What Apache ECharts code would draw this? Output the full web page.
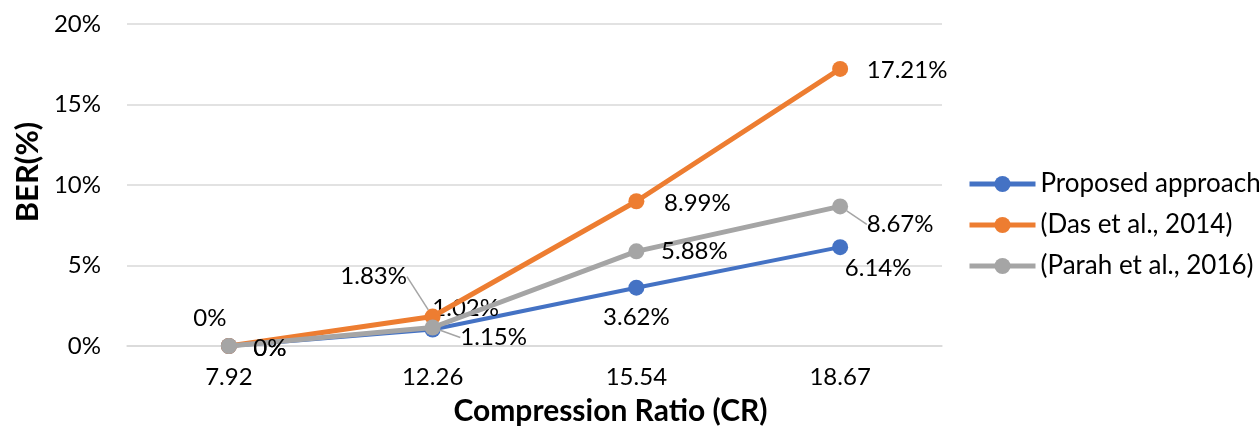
<!DOCTYPE html>
<html>
<head>
<meta charset="utf-8">
<script src="https://cdn.jsdelivr.net/npm/echarts@6/dist/echarts.min.js"></script>
<style>
  html, body { margin: 0; padding: 0; background: #fff; }
  #main { width: 1259px; height: 428px; }
</style>
</head>
<body>
<div id="main"></div>
<script>
// 数据
var categories = ['7.92', '12.26', '15.54', '18.67'];
var proposed = [0, 1.02, 3.62, 6.14];
var das = [0, 1.83, 8.99, 17.21];
var parah = [0, 1.15, 5.88, 8.67];
var seriesNames = ['Proposed approach', '(Das et al., 2014)', '(Parah et al., 2016)'];

// label shifts (pixels) per series / point, leader line flag
var labelShift = [
    [[41, 2], [33, -21], [0, 30], [38, 21]],
    [[-19, -28], [-59, -40], [61, 2], [67, 1]],
    [[41, 2], [61, 10], [58, 0], [60, 18]]
];
var leader = [
    [false, false, false, false],
    [false, true, false, false],
    [false, true, false, true]
];
var colors = ['#4472C4', '#ED7D31', '#A5A5A5'];
var widths = [4, 5, 5];
var font = 'Lato, "Open Sans", sans-serif';

var myChart = echarts.init(document.getElementById('main'));

function makeSeries(idx, values) {
    return {
        name: seriesNames[idx],
        type: 'line',
        symbol: 'circle',
        symbolSize: 16,
        color: colors[idx],
        lineStyle: {width: widths[idx], color: colors[idx]},
        itemStyle: {color: colors[idx]},
        z: 2 + idx,
        label: {
            show: true,
            position: 'inside',
            color: '#000',
            fontSize: 24,
            fontFamily: font,
            formatter: function(p) { return p.value + '%'; }
        },
        labelLine: {show: false, lineStyle: {color: '#A5A5A5', width: 1.5}},
        labelLayout: function(p) {
            var s = labelShift[idx][p.dataIndex];
            return {dx: s[0], dy: s[1]};
        },
        data: values.map(function(v, i) {
            return {value: v, labelLine: {show: leader[idx][i]}};
        })
    };
}

myChart.setOption({
    animation: false,
    grid: {left: 127, right: 317, top: 24, bottom: 82, containLabel: false, outerBoundsMode: 'none'},
    legend: {
        orient: 'vertical',
        left: 967,
        top: 171,
        padding: 0,
        itemWidth: 66,
        itemHeight: 20,
        itemGap: 15,
        lineStyle: {width: 5},
        textStyle: {fontSize: 26, fontFamily: font, color: '#000'},
        data: seriesNames
    },
    xAxis: {
        type: 'category',
        data: categories,
        boundaryGap: true,
        name: 'Compression Ratio (CR)',
        nameLocation: 'middle',
        nameGap: 50,
        nameTextStyle: {fontSize: 30, fontWeight: 'bold', fontFamily: font, color: '#000', padding: [0, 0, 0, 152]},
        axisLine: {lineStyle: {color: '#D9D9D9', width: 1.5}},
        axisTick: {show: false},
        axisLabel: {fontSize: 24, fontFamily: font, color: '#000', margin: 19}
    },
    yAxis: {
        type: 'value',
        min: 0,
        max: 20,
        interval: 5,
        name: 'BER(%)',
        nameLocation: 'middle',
        nameRotate: 90,
        nameGap: 80,
        nameTextStyle: {fontSize: 31, fontWeight: 'bold', fontFamily: font, color: '#000', padding: [0, 0, 0, 26]},
        axisLine: {show: false},
        axisTick: {show: false},
        splitLine: {lineStyle: {color: '#D9D9D9', width: 1.5}},
        axisLabel: {fontSize: 24, fontFamily: font, color: '#000', margin: 26, formatter: '{value}%'}
    },
    series: [
        makeSeries(0, proposed),
        makeSeries(1, das),
        makeSeries(2, parah)
    ]
});
</script>
</body>
</html>
